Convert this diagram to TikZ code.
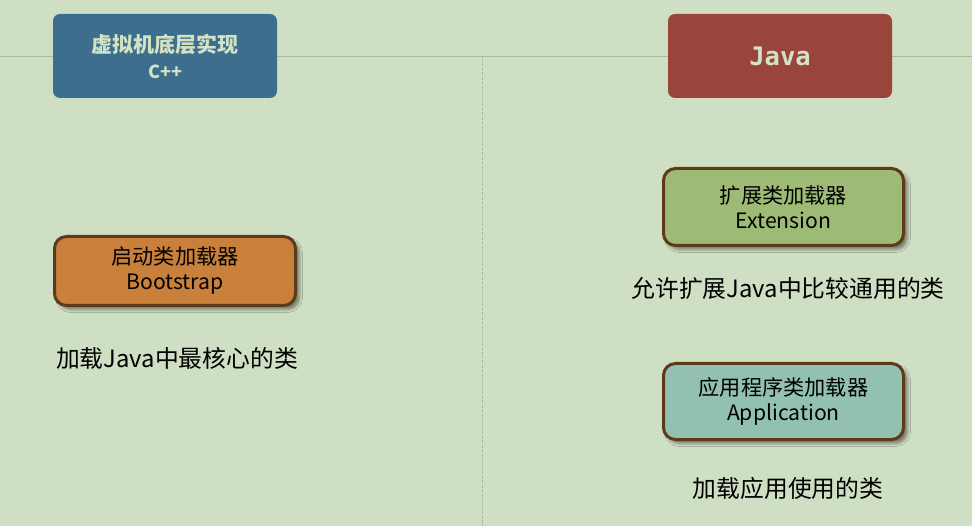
\documentclass[tikz,border=0pt]{standalone}
\usepackage{fontspec}
\setmainfont{Noto Sans CJK SC}
\newfontfamily\monob{DejaVu Sans Mono}
\usetikzlibrary{shadows.blur}
\definecolor{bg}{HTML}{CFDFC4}
\definecolor{hline}{HTML}{A8BC9C}
\definecolor{vline}{HTML}{98A88E}
\definecolor{lighttxt}{HTML}{D2E2C4}
\definecolor{bluebox}{HTML}{3D6E8E}
\definecolor{redbox}{HTML}{9A453C}
\definecolor{orangebox}{HTML}{C8803A}
\definecolor{greenbox}{HTML}{9EBB75}
\definecolor{tealbox}{HTML}{93C1B0}
\definecolor{brownline}{HTML}{5C3A1A}
\tikzset{
  headbox/.style={rounded corners=7pt, minimum width=224pt, minimum height=84pt, inner sep=0pt, align=center, text=lighttxt},
  loaderbox/.style={draw=brownline, line width=3pt, rounded corners=12pt, inner sep=0pt, align=center, text=black,
    font=\fontsize{21.2}{25}\selectfont,
    blur shadow={shadow xshift=4pt, shadow yshift=-4pt, shadow blur steps=6, shadow blur radius=3pt, shadow opacity=45}},
  desc/.style={inner sep=0pt, text=black, font=\fontsize{23.8}{28}\selectfont}
}
\begin{document}
\begin{tikzpicture}[x=1pt,y=-1pt]
\useasboundingbox (0,0) rectangle (972,526);
\fill[bg] (0,0) rectangle (972,526);
\coordinate (hl) at (0,56.5);
\coordinate (hr) at (972,56.5);
\draw[hline, line width=1.5pt] (hl) -- (hr);
\coordinate (vt) at (482,57);
\coordinate (vb) at (482,526);
\draw[vline, line width=0.8pt, dash pattern=on 1pt off 1.5pt] (vt) -- (vb);

\node[headbox, fill=bluebox, font=\bfseries\fontsize{21}{26}\selectfont] (cpp) at (165,56) {虚拟机底层实现\\{\fontsize{18}{20}\selectfont C++}};
\node[headbox, fill=redbox, font=\monob\bfseries\fontsize{25.5}{26}\selectfont] (java) at (780,56) {Java};

\node[loaderbox, fill=orangebox, minimum width=241pt, minimum height=69pt] (boot) at (175,271) {启动类加载器\\Bootstrap};
\node[loaderbox, fill=greenbox, minimum width=240pt, minimum height=77pt] (ext) at (783.5,207) {扩展类加载器\\Extension};
\node[loaderbox, fill=tealbox, minimum width=240pt, minimum height=76pt] (app) at (783.5,401.5) {应用程序类加载器\\Application};

\node[desc] (bootd) at (177,358) {加载Java中最核心的类};
\node[desc] (extd) at (788,288) {允许扩展Java中比较通用的类};
\node[desc] (appd) at (788,488) {加载应用使用的类};
\end{tikzpicture}
\end{document}
